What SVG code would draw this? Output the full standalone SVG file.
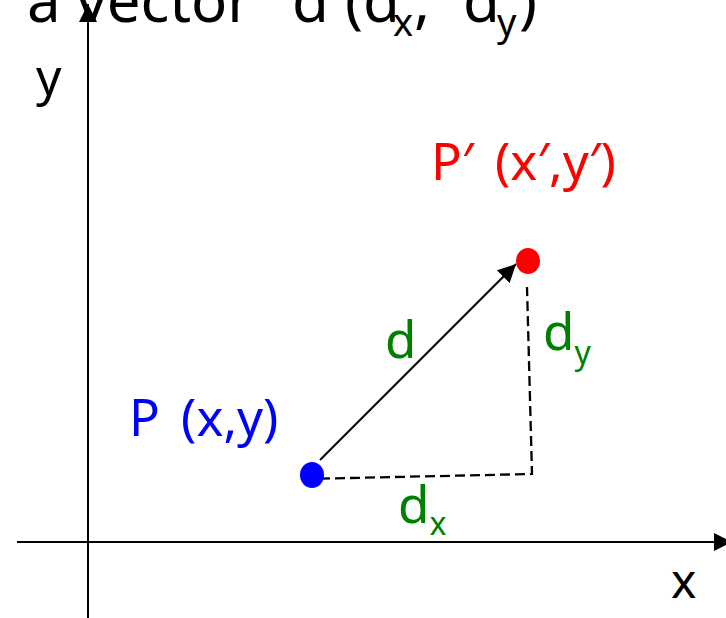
<svg xmlns="http://www.w3.org/2000/svg" width="726" height="618" viewBox="0 0 726 618">
<style>
text{font-family:"Noto Sans","Open Sans","DejaVu Sans",sans-serif}
.ax{stroke:#000;stroke-width:2;fill:none}
.lbl{font-size:51px;word-spacing:8px}
.g{fill:#008000}
.sub{font-size:32px}
</style>
<defs>
<marker id="ahBig" viewBox="0 0 10 10" refX="10" refY="5" markerWidth="9" markerHeight="9" orient="auto">
<path d="M0,0 L10,5 L0,10 z" fill="#000"/>
</marker>
</defs>
<g id="connectors">
<line class="ax" x1="88" y1="618" x2="88" y2="4" marker-end="url(#ahBig)"/>
<line class="ax" x1="17" y1="542" x2="732" y2="542" marker-end="url(#ahBig)"/>
<line x1="320" y1="460" x2="516" y2="264" stroke="#000" stroke-width="2" marker-end="url(#ahBig)"/>
<polyline points="305,479 532,474 527,287" fill="none" stroke="#000" stroke-width="2.3" stroke-dasharray="10,5"/>
</g>
<g id="title"><text y="22" font-size="60"><tspan x="27">a vector</tspan><tspan x="292">d</tspan><tspan x="345">(d</tspan><tspan x="393" y="36" font-size="38">x</tspan><tspan x="414" y="22">,</tspan><tspan x="463">d</tspan><tspan x="497" y="36" font-size="38">y</tspan><tspan x="519" y="22">)</tspan></text></g>
<g id="y-label"><text x="36" y="95" font-size="50">y</text></g>
<g id="x-label"><text x="671" y="598" font-size="48">x</text></g>
<g id="P"><ellipse cx="312" cy="475" rx="12" ry="13" fill="#0000ff"/><text class="lbl" x="129" y="436" fill="#0000ff">P (x,y)</text></g>
<g id="Pprime"><ellipse cx="528" cy="261" rx="12" ry="13" fill="#ff0000"/><text class="lbl" x="431" y="180" fill="#ff0000">P′ (x′,y′)</text></g>
<g id="d-label"><text class="lbl g" x="385" y="358">d</text></g>
<g id="dy-label"><text class="lbl g" x="543" y="350">d<tspan class="sub" dy="14">y</tspan></text></g>
<g id="dx-label"><text class="lbl g" x="398" y="523">d<tspan class="sub" dy="12">x</tspan></text></g>
</svg>
